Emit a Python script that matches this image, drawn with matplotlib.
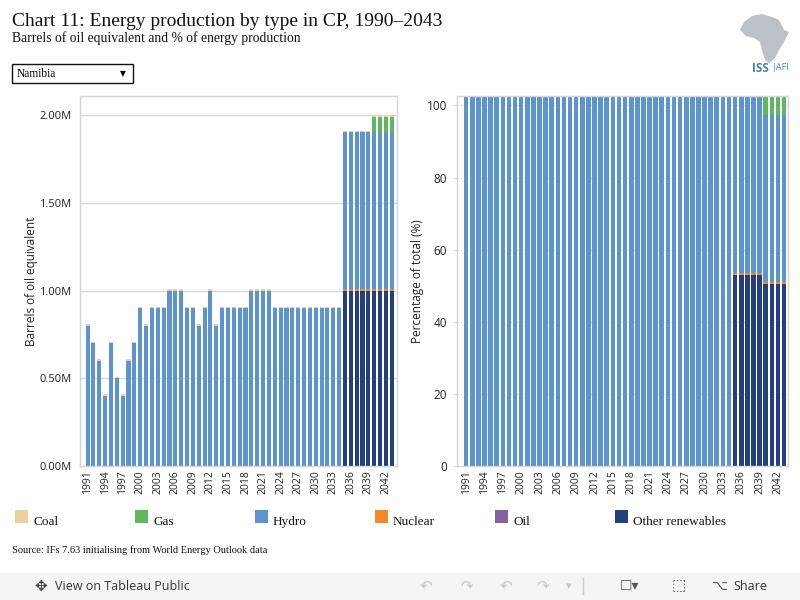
import numpy as np
import matplotlib
matplotlib.use("Agg")
import matplotlib.pyplot as plt
from matplotlib.patches import Rectangle, Polygon

# data, years 1991-2043
years = list(range(1991, 2044))
year_labels = [str(y) for y in years[::3]]

# barrels of oil equivalent (millions)
hydro_m = [0.8, 0.7, 0.6, 0.4, 0.7, 0.5, 0.4, 0.6, 0.7, 0.9,
           0.8, 0.9, 0.9, 0.9, 1.0, 1.0, 1.0, 0.9, 0.9, 0.8,
           0.9, 1.0, 0.8, 0.9, 0.9, 0.9, 0.9, 0.9, 1.0, 1.0,
           1.0, 1.0, 0.9, 0.9, 0.9, 0.9, 0.9, 0.9, 0.9, 0.9,
           0.9, 0.9, 0.9, 0.9, 0.89, 0.89, 0.89, 0.89, 0.89, 0.89,
           0.89, 0.89, 0.89]
other_m = [0.0] * 44 + [1.0] * 9
nuclear_m = [0.0] * 44 + [0.012] * 9
gas_m = [0.0] * 49 + [0.09] * 4
oil_m = [0.0] * 53
coal_m = [0.008] * 53

# percentage of total
hydro_p = [102.5] * 44 + [49.5] * 5 + [46.5] * 4
other_p = [0.0] * 44 + [53.0] * 5 + [50.5] * 4
nuclear_p = [0.0] * 44 + [0.4] * 9
gas_p = [0.0] * 49 + [5.0] * 4
oil_p = [0.0] * 53
coal_p = [0.0] * 53

names = ["Coal", "Gas", "Hydro", "Nuclear", "Oil", "Other renewables"]
colors = {"Coal": "#e8d29c", "Gas": "#5eb95e", "Hydro": "#5b94cf",
          "Nuclear": "#f58a25", "Oil": "#7f63a3", "Other renewables": "#233f7e"}

sans = "Open Sans"
serif = "Liberation Serif"

fig = plt.figure(figsize=(8, 6), dpi=100)
W, H = 800, 600

def fx(px):
    return px / W

def fy(py):
    return 1 - py / H

x = np.arange(len(years))

def stack(ax, series, width):
    bottom = np.zeros(len(years))
    for name, vals in series:
        vals = np.array(vals)
        ax.bar(x, vals, width, bottom=bottom, color=colors[name], linewidth=0)
        bottom += vals

def style(ax):
    for s in ax.spines.values():
        s.set_color("#d4d4d4")
        s.set_linewidth(1)
    ax.set_xticks(x[::3])
    ax.set_xticklabels(year_labels, rotation=90, fontsize=7.5, family=sans, color="#222222")
    ax.tick_params(axis="x", length=0, pad=3)
    ax.set_axisbelow(True)

# left chart
ax1 = fig.add_axes([fx(80), fy(466), fx(317), 370 / H])
stack(ax1, [("Other renewables", other_m), ("Oil", oil_m), ("Nuclear", nuclear_m),
            ("Hydro", hydro_m), ("Gas", gas_m), ("Coal", coal_m)], 0.7)
style(ax1)
ax1.set_xlim(-1.3, 52.9)
ax1.set_ylim(0, 2.11)
ax1.set_yticks([0, 0.5, 1.0, 1.5, 2.0])
ax1.set_yticklabels(["0.00M", "0.50M", "1.00M", "1.50M", "2.00M"], fontsize=8, family=sans, color="#222222")
ax1.tick_params(axis="y", length=0, pad=6)
ax1.grid(axis="y", color="#d9d9d9", linewidth=1)
ax1.set_ylabel("Barrels of oil equivalent", fontsize=8.5, family=sans, color="#222222", labelpad=1)

# right chart
ax2 = fig.add_axes([fx(457), fy(466), fx(331), 370 / H])
stack(ax2, [("Other renewables", other_p), ("Oil", oil_p), ("Nuclear", nuclear_p),
            ("Hydro", hydro_p), ("Gas", gas_p), ("Coal", coal_p)], 0.75)
style(ax2)
ax2.set_xlim(-1.5, 52.65)
ax2.set_ylim(0, 102.6)
ax2.set_yticks([0, 20, 40, 60, 80, 100])
ax2.set_yticklabels(["0", "20", "40", "60", "80", "100"], fontsize=8.5, family=sans, color="#222222")
ax2.tick_params(axis="y", length=3, color="#d4d4d4", pad=4)
ax2.grid(axis="y", color="#cfcfcf", linewidth=0.8, linestyle=(0, (1, 2)))
ax2.set_ylabel("Percentage of total (%)", fontsize=8.5, family=sans, color="#222222", labelpad=2)

# titles
fig.text(fx(12), fy(22), "Chart 11: Energy production by type in CP, 1990\u20132043",
         fontsize=14, family=serif, va="center", color="#111111")
fig.text(fx(12), fy(38), "Barrels of oil equivalent and % of energy production",
         fontsize=9.8, family=serif, va="center", color="#111111")

# logo
africa = [(744, 22), (752, 16), (762, 14), (772, 17), (779, 20), (784, 30), (789, 32),
          (784, 42), (779, 50), (775, 58), (769, 63), (765, 60), (762, 50), (760, 42),
          (754, 38), (746, 36), (740, 30)]
fig.patches.append(Polygon([(fx(a), fy(b)) for a, b in africa], closed=True,
                           transform=fig.transFigure, facecolor="#bcc1c8", edgecolor="none"))
fig.text(fx(752), fy(68), "ISS", fontsize=8.5, family=sans, color="#4f7fae", va="center", weight="bold")
fig.text(fx(772), fy(68), "|AFI", fontsize=6.5, family=sans, color="#3a8fd0", va="center")

# dropdown
fig.patches.append(Rectangle((fx(12), fy(83)), fx(121), 19 / H, transform=fig.transFigure,
                             facecolor="white", edgecolor="#111111", linewidth=1))
fig.text(fx(17), fy(74), "Namibia", fontsize=8.3, family=serif, va="center")
fig.text(fx(120), fy(74), "\u25bc", fontsize=5.5, family="DejaVu Sans", va="center")

# legend
for i, name in enumerate(names):
    x0 = 15 + i * 120
    fig.patches.append(Rectangle((fx(x0), fy(523)), fx(13), 13 / H, transform=fig.transFigure,
                                 facecolor=colors[name], edgecolor="none"))
    fig.text(fx(x0 + 18), fy(522), name, fontsize=9.5, family=serif, va="center", color="#111111")

fig.text(fx(12), fy(550), "Source: IFs 7.63 initialising from World Energy Outlook data",
         fontsize=7.5, family=serif, va="center", color="#111111")

# tableau toolbar
fig.patches.append(Rectangle((0, 0), 1, 27 / H, transform=fig.transFigure,
                             facecolor="#f5f5f5", edgecolor="none"))
fig.text(fx(34), fy(586), "\u2725", fontsize=11, family="DejaVu Sans", va="center", color="#444444")
fig.text(fx(55), fy(586), "View on Tableau Public", fontsize=9, family=sans, va="center", color="#333333")
for px, g in [(420, "\u21b6"), (460, "\u21b7"), (500, "\u21b6"), (536, "\u21b7")]:
    fig.text(fx(px), fy(586), g, fontsize=11, family="DejaVu Sans", va="center", color="#c4c4c4")
fig.text(fx(566), fy(586), "\u25be", fontsize=8, family="DejaVu Sans", va="center", color="#c4c4c4")
fig.add_artist(plt.Line2D([fx(583), fx(583)], [fy(578), fy(594)], color="#cccccc", linewidth=1))
fig.text(fx(620), fy(586), "\u2610\u25be", fontsize=10, family="DejaVu Sans", va="center", color="#555555")
fig.text(fx(672), fy(586), "\u2b1a", fontsize=11, family="DejaVu Sans", va="center", color="#555555")
fig.text(fx(712), fy(586), "\u2325", fontsize=10, family="DejaVu Sans", va="center", color="#555555")
fig.text(fx(733), fy(586), "Share", fontsize=9, family=sans, va="center", color="#333333")

fig.savefig("out.png", dpi=100)
